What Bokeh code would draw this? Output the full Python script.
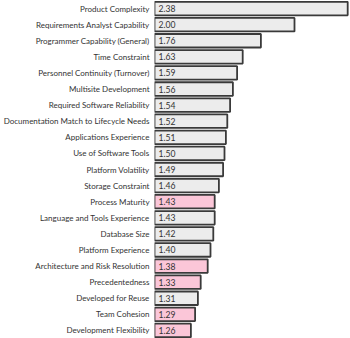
from bokeh.plotting import figure
from bokeh.models import ColumnDataSource, Range1d, FactorRange
from bokeh.embed import file_html
from bokeh.resources import INLINE
from bokeh.core.properties import value

categories = [
    "Product Complexity", "Requirements Analyst Capability", "Programmer Capability (General)",
    "Time Constraint", "Personnel Continuity (Turnover)", "Multisite Development",
    "Required Software Reliability", "Documentation Match to Lifecycle Needs",
    "Applications Experience", "Use of Software Tools", "Platform Volatility",
    "Storage Constraint", "Process Maturity", "Language and Tools Experience",
    "Database Size", "Platform Experience", "Architecture and Risk Resolution",
    "Precedentedness", "Developed for Reuse", "Team Cohesion", "Development Flexibility",
]
values = [2.38, 2.00, 1.76, 1.63, 1.59, 1.56, 1.54, 1.52, 1.51, 1.50, 1.49, 1.46,
          1.43, 1.43, 1.42, 1.40, 1.38, 1.33, 1.31, 1.29, 1.26]
scale_factor = [False, False, False, False, False, False, False, False, False, False,
                False, False, True, False, False, False, True, True, False, True, True]
labels = ["%.2f" % v for v in values]

GREY = "#ececec"
PINK = "#fbc6d8"
colors = [PINK if s else GREY for s in scale_factor]

FONT = "Lato"
FSIZE = "8px"

src = ColumnDataSource(dict(cat=categories, val=values, left=[1.0] * len(values),
                            color=colors, label=labels))

p = figure(width=350, height=338, output_backend="svg", toolbar_location=None,
           y_range=FactorRange(factors=list(reversed(categories)), range_padding=0),
           x_range=Range1d(1.0, 2.40),
           min_border_left=154, min_border_right=0, min_border_top=0, min_border_bottom=0)

p.hbar(y="cat", left="left", right="val", height=0.84, source=src,
       fill_color="color", line_color="#3a3a3a", line_width=1.8)
p.text(x="left", y="cat", text="label", source=src, x_offset=4,
       text_align="left", text_baseline="middle", text_font_size="8.6px",
       text_font=value(FONT), text_color="#333333")

p.xaxis.visible = False
p.grid.visible = False
p.outline_line_color = None
yax = p.yaxis[0]
yax.axis_line_color = None
yax.major_tick_line_color = None
yax.minor_tick_line_color = None
yax.major_tick_out = 0
yax.major_tick_in = 0
yax.major_label_standoff = 5
yax.major_label_text_font = FONT
yax.major_label_text_font_size = FSIZE
yax.major_label_text_color = "#333333"

open("out.html", "w").write(file_html(p, INLINE))
